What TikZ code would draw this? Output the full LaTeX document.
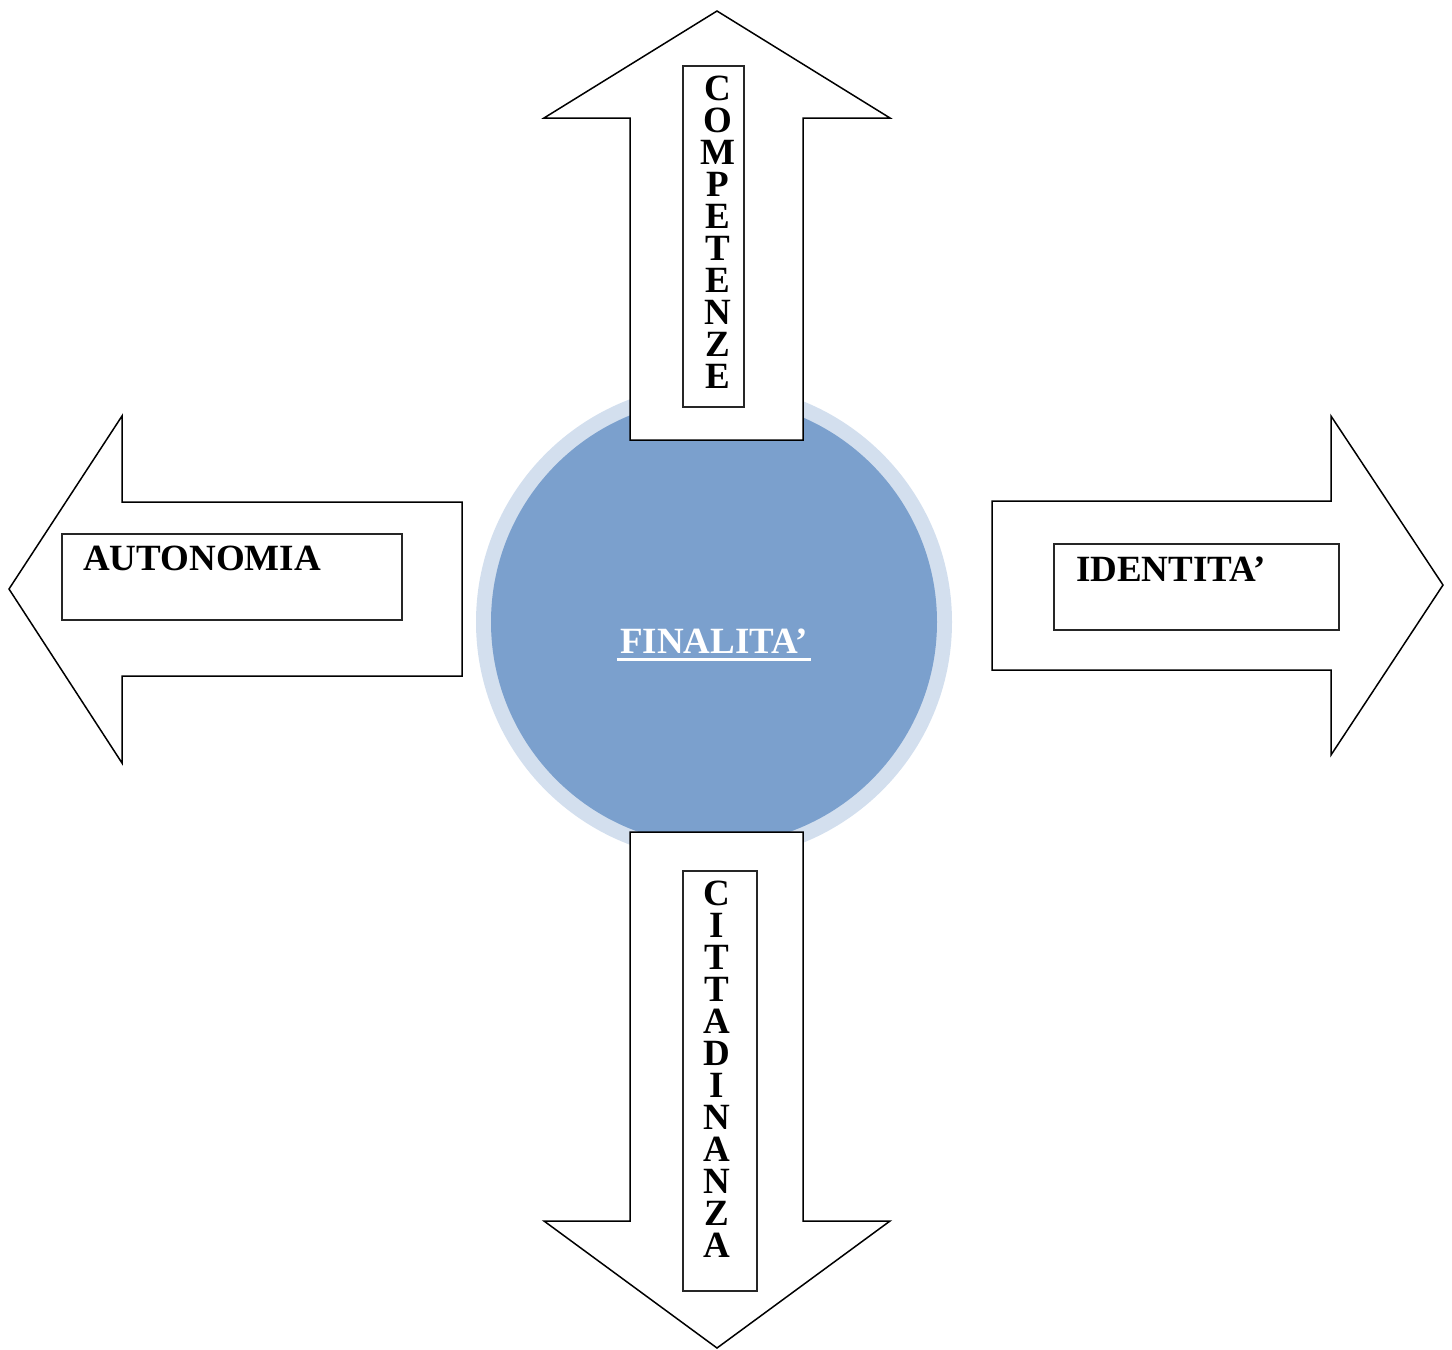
\documentclass[tikz,border=0pt]{standalone}
\usepackage{fontspec}
\setmainfont{Liberation Serif}
\definecolor{ringblue}{RGB}{211,223,238}
\definecolor{coreblue}{RGB}{123,160,205}
\begin{document}
\begin{tikzpicture}[x=1pt,y=-1pt,
  bigarrow/.style={draw=black,fill=white,line width=1.5pt,line join=miter},
  labelbox/.style={draw=black!85,line width=1.2pt,fill=white,inner sep=0pt},
  word/.style={font=\fontsize{37}{32}\selectfont\bfseries,inner sep=0pt},
  column/.style={font=\fontsize{37}{32}\selectfont\bfseries,inner sep=0pt,align=center,anchor=north}]
\useasboundingbox (0,0) rectangle (1452,1350);

% central circle with its pale ring
\fill[ringblue] (714,622) circle (238);
\node[circle,fill=coreblue,minimum size=446pt,inner sep=0pt] (fin) at (714,622) {};
\node[word,text=white,anchor=base] (fintext) at (714,653) {FINALITA’};
\draw[white,line width=3pt] ([xshift=-3pt,yshift=-6pt]fintext.base west)
  -- ([xshift=3pt,yshift=-6pt]fintext.base east);

% up arrow
\draw[bigarrow] (630,440) -- (630,118) -- (544,118) -- (717,11) -- (890,118)
  -- (803,118) -- (803,440) -- cycle;
\node[labelbox,minimum width=61pt,minimum height=341pt] (compbox) at (713.5,236.5) {};
\node[column] (comp) at (718,76) {C\\O\\M\\P\\E\\T\\E\\N\\Z\\E};

% down arrow
\draw[bigarrow] (630,832) -- (630,1221) -- (544,1221) -- (717,1348) -- (890,1221)
  -- (803,1221) -- (803,832) -- cycle;
\node[labelbox,minimum width=74pt,minimum height=420pt] (cittbox) at (720,1081) {};
\node[column] (citt) at (717,881) {C\\I\\T\\T\\A\\D\\I\\N\\A\\N\\Z\\A};

% left arrow
\draw[bigarrow] (462,502) -- (122,502) -- (122,416) -- (9,589) -- (122,763)
  -- (122,676) -- (462,676) -- cycle;
\node[labelbox,minimum width=340pt,minimum height=86pt] (autbox) at (232,577) {};
\node[word,anchor=base west] (aut) at (83,570) {AUTONOMIA};

% right arrow
\draw[bigarrow] (992,501) -- (1331,501) -- (1331,416) -- (1443,585) -- (1331,755)
  -- (1331,670) -- (992,670) -- cycle;
\node[labelbox,minimum width=285pt,minimum height=86pt] (idbox) at (1196.5,587) {};
\node[word,anchor=base west] (id) at (1076,581) {IDENTITA’};
\end{tikzpicture}
\end{document}
